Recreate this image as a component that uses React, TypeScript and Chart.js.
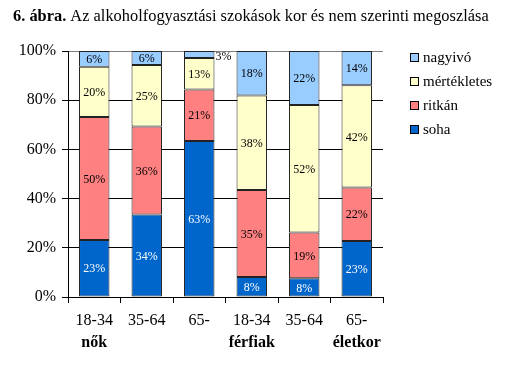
import React, { useEffect, useRef } from 'react';
import { Chart, registerables } from 'chart.js';

Chart.register(...registerables);

const categoriesTop = ['18-34', '35-64', '65-', '18-34', '35-64', '65-'];
const categoriesBottom = ['nők', '', '', 'férfiak', '', 'életkor'];
const yTicks = [0, 20, 40, 60, 80, 100];

const soha = [23.2, 33.5, 63.4, 8.1, 7.6, 22.8];
const ritkan = [50.0, 35.8, 21.0, 35.4, 18.6, 21.7];
const mertekletes = [20.4, 25.0, 12.8, 38.4, 51.8, 41.6];
const nagyivo = [6.4, 5.7, 2.8, 18.1, 22.0, 13.9];

const seriesNames = ['soha', 'ritkán', 'mértékletes', 'nagyivó'];
const seriesColors = ['#0066CC', '#FF8080', '#FFFFCC', '#99CCFF'];
const labelColors = ['#FFFFFF', '#000000', '#000000', '#000000'];

const SERIF = '"Liberation Serif", "Times New Roman", serif';

const overlayPlugin = {
  id: 'overlay',
  afterDraw(chart: any) {
    const ctx = chart.ctx;
    ctx.save();
    // Title
    ctx.fillStyle = '#000';
    ctx.textBaseline = 'alphabetic';
    ctx.textAlign = 'left';
    ctx.font = `bold 16.4px ${SERIF}`;
    const boldPart = '6. ábra.';
    ctx.fillText(boldPart, 13, 21);
    const w = ctx.measureText(boldPart + ' ').width;
    ctx.font = `16.4px ${SERIF}`;
    ctx.fillText('Az alkoholfogyasztási szokások kor és nem szerinti megoszlása', 13 + w, 21);

    // X labels (two lines)
    const xs = chart.scales.x;
    ctx.textAlign = 'center';
    categoriesTop.forEach((c, i) => {
      const x = xs.getPixelForValue(i);
      ctx.font = `16px ${SERIF}`;
      ctx.fillText(c, x, 325);
      if (categoriesBottom[i]) {
        ctx.font = `bold 16px ${SERIF}`;
        ctx.fillText(categoriesBottom[i], x, 347);
      }
    });

    // Data labels
    ctx.font = `12px ${SERIF}`;
    ctx.textBaseline = 'middle';
    chart.data.datasets.forEach((ds: any, di: number) => {
      const meta = chart.getDatasetMeta(di);
      meta.data.forEach((bar: any, i: number) => {
        const v = ds.data[i];
        const txt = Math.round(v) + '%';
        const h = Math.abs(bar.base - bar.y);
        const cy = (bar.base + bar.y) / 2;
        if (h < 10) {
          ctx.textAlign = 'left';
          ctx.fillStyle = '#000';
          ctx.fillText(txt, bar.x + bar.width / 2 + 1, cy + 2);
        } else {
          ctx.textAlign = 'center';
          ctx.fillStyle = labelColors[di];
          ctx.fillText(txt, bar.x, cy + 1);
        }
      });
    });

    // Legend (reverse order)
    const rows = [3, 2, 1, 0];
    ctx.textAlign = 'left';
    ctx.textBaseline = 'middle';
    ctx.font = `15px ${SERIF}`;
    rows.forEach((si, r) => {
      const cy = 58 + r * 24;
      ctx.fillStyle = seriesColors[si];
      ctx.fillRect(411, cy - 4, 7, 7);
      ctx.strokeStyle = '#000';
      ctx.lineWidth = 1;
      ctx.strokeRect(410.5, cy - 4.5, 8, 8);
      ctx.fillStyle = '#000';
      ctx.fillText(seriesNames[si], 423, cy);
    });
    ctx.restore();
  },
};

export default function App() {
  const ref = useRef<HTMLCanvasElement>(null);
  useEffect(() => {
    document.body.style.margin = '0';
    const seriesData = [soha, ritkan, mertekletes, nagyivo];
    const chart = new Chart(ref.current as HTMLCanvasElement, {
      type: 'bar',
      data: {
        labels: categoriesTop,
        datasets: seriesData.map((d, i) => ({
          label: seriesNames[i],
          data: d,
          backgroundColor: seriesColors[i],
          borderColor: '#222',
          borderWidth: 1,
          borderSkipped: false,
          barPercentage: 0.58,
          categoryPercentage: 1,
        })),
      },
      options: {
        responsive: false,
        animation: false,
        layout: { padding: { top: 51, right: 132, left: 0, bottom: 0 } },
        plugins: { legend: { display: false }, title: { display: false }, tooltip: { enabled: false } },
        scales: {
          x: {
            stacked: true,
            offset: true,
            grid: {
              display: true,
              offset: true,
              drawOnChartArea: false,
              drawTicks: true,
              tickLength: 6,
              color: '#000',
            },
            border: { color: '#000', width: 1 },
            ticks: { display: false },
            afterFit: (s: any) => { s.height = 68; },
          },
          y: {
            stacked: true,
            min: 0,
            max: 100,
            afterBuildTicks: (s: any) => { s.ticks = yTicks.map((v) => ({ value: v })); },
            grid: {
              color: (c: any) => (c.tick && c.tick.value === 100 ? '#808080' : '#000'),
              tickColor: '#000',
              tickLength: 6,
            },
            border: { color: '#000', width: 1 },
            ticks: {
              padding: 6,
              color: '#000',
              font: { family: SERIF, size: 16 },
              callback: (v: any) => v + '%',
            },
            afterFit: (s: any) => { s.width = 68; },
          },
        },
      },
      plugins: [overlayPlugin],
    });
    return () => chart.destroy();
  }, []);
  return <canvas ref={ref} width={515} height={365} style={{ display: 'block' }} />;
}
